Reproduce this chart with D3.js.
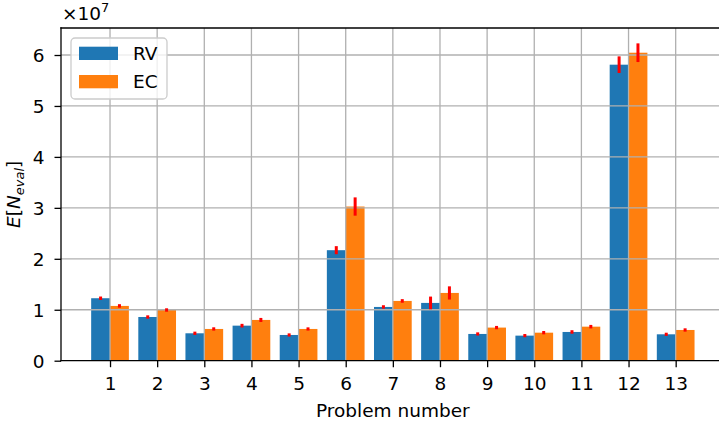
<!DOCTYPE html>
<html lang="en">

<head>
    <title></title>
    <meta charset="UTF-8">
    <script src="https://cdn.jsdelivr.net/npm/d3@7"></script>
    <style>
        body {
            margin: 0;
            background: #fff;
        }

        svg {
            display: block;
            font-family: "DejaVu Sans", sans-serif;
        }
    </style>
</head>

<body>
    <div id="wrap"></div>
    <script>
        //data
        var problems = [1, 2, 3, 4, 5, 6, 7, 8, 9, 10, 11, 12, 13];
        var seriesNames = ['RV', 'EC'];
        var rvMean = [1.226e7, 0.858e7, 0.538e7, 0.688e7, 0.505e7, 2.169e7, 1.055e7, 1.134e7, 0.525e7, 0.492e7, 0.564e7, 5.81e7, 0.518e7];
        var ecMean = [1.075e7, 0.995e7, 0.623e7, 0.80e7, 0.623e7, 3.026e7, 1.173e7, 1.33e7, 0.65e7, 0.55e7, 0.668e7, 6.045e7, 0.603e7];
        var rvErr = [0.004e7, 0.003e7, 0.003e7, 0.006e7, 0.002e7, 0.05e7, 0.004e7, 0.095e7, 0.002e7, 0.002e7, 0.005e7, 0.134e7, 0.002e7];
        var ecErr = [0.005e7, 0.004e7, 0.003e7, 0.01e7, 0.002e7, 0.15e7, 0.006e7, 0.1e7, 0.003e7, 0.003e7, 0.005e7, 0.154e7, 0.003e7];
        var yTicks = [0, 1e7, 2e7, 3e7, 4e7, 5e7, 6e7];

        //constants
        var WIDTH = 719,
            HEIGHT = 425,
            LEFT = 61,
            RIGHT = 724.7,
            TOP = 28,
            BOTTOM = 360.7,
            BARW = 0.4,
            FONT = 18.5,
            LW = 1.3,
            GRIDCOLOR = '#b0b0b0',
            colorArr = ['#1f77b4', '#ff7f0e'];

        var svg = d3.select('#wrap').append('svg').attr('width', WIDTH).attr('height', HEIGHT);

        //scales
        var x = d3.scaleLinear().domain([0.6 - 0.64, 13.4 + 0.64]).range([LEFT, RIGHT]);
        var y = d3.scaleLinear().domain([0, 6.53e7]).range([BOTTOM, TOP]);

        var series = [rvMean, ecMean];
        var errs = [rvErr, ecErr];
        var offsets = [-0.2, 0.2];

        //bars
        series.forEach(function(vals, s) {
            svg.append('g')
                .attr('class', 'bars bars' + s)
                .selectAll('rect')
                .data(vals)
                .enter()
                .append('rect')
                .attr('x', function(d, i) { return x(problems[i] + offsets[s] - BARW / 2); })
                .attr('width', x(BARW) - x(0))
                .attr('y', function(d) { return y(d); })
                .attr('height', function(d) { return y(0) - y(d); })
                .attr('fill', colorArr[s]);
        });

        //grid (drawn over bars, like the original)
        var grid = svg.append('g').attr('class', 'grid');
        grid.selectAll('line.gx')
            .data(problems)
            .enter()
            .append('line')
            .attr('class', 'gx')
            .attr('x1', function(d) { return x(d); })
            .attr('x2', function(d) { return x(d); })
            .attr('y1', TOP)
            .attr('y2', BOTTOM)
            .attr('stroke', GRIDCOLOR)
            .attr('stroke-width', LW);
        grid.selectAll('line.gy')
            .data(yTicks.slice(1))
            .enter()
            .append('line')
            .attr('class', 'gy')
            .attr('x1', LEFT)
            .attr('x2', RIGHT)
            .attr('y1', function(d) { return y(d); })
            .attr('y2', function(d) { return y(d); })
            .attr('stroke', GRIDCOLOR)
            .attr('stroke-width', LW);

        //error bars
        series.forEach(function(vals, s) {
            svg.append('g')
                .attr('class', 'err err' + s)
                .selectAll('line')
                .data(vals)
                .enter()
                .append('line')
                .attr('x1', function(d, i) { return x(problems[i] + offsets[s]); })
                .attr('x2', function(d, i) { return x(problems[i] + offsets[s]); })
                .attr('y1', function(d, i) { return y(d - errs[s][i]); })
                .attr('y2', function(d, i) { return y(d + errs[s][i]); })
                .attr('stroke', 'red')
                .attr('stroke-width', 3)
                .attr('stroke-linecap', 'square');
        });

        //axes
        var xAxis = d3.axisBottom(x).tickValues(problems).tickSize(6.5).tickPadding(6).tickFormat(d3.format('d'));
        var yAxis = d3.axisLeft(y).tickValues(yTicks).tickSize(6.5).tickPadding(10).tickFormat(function(d) { return d / 1e7; });

        var gx = svg.append('g').attr('transform', 'translate(0,' + BOTTOM + ')').call(xAxis);
        var gy = svg.append('g').attr('transform', 'translate(' + LEFT + ',0)').call(yAxis);
        [gx, gy].forEach(function(g) {
            g.select('.domain').remove();
            g.selectAll('line').attr('stroke', '#000').attr('stroke-width', LW);
            g.selectAll('text').attr('font-size', FONT).attr('font-family', 'DejaVu Sans').attr('fill', '#000');
        });
        gx.selectAll('text').attr('y', 12.5).attr('dy', '17.3px');
        gy.selectAll('text').attr('dy', '0.36em');

        //spines
        svg.append('line').attr('x1', LEFT).attr('x2', LEFT).attr('y1', TOP).attr('y2', BOTTOM)
            .attr('stroke', '#000').attr('stroke-width', LW).attr('stroke-linecap', 'square');
        svg.append('line').attr('x1', LEFT).attr('x2', RIGHT).attr('y1', BOTTOM).attr('y2', BOTTOM)
            .attr('stroke', '#000').attr('stroke-width', LW).attr('stroke-linecap', 'square');
        svg.append('line').attr('x1', LEFT).attr('x2', RIGHT).attr('y1', TOP).attr('y2', TOP)
            .attr('stroke', '#000').attr('stroke-width', LW).attr('stroke-linecap', 'square');

        //offset text
        var off = svg.append('text').attr('x', LEFT + 1).attr('y', 20).attr('font-size', FONT);
        off.append('tspan').text('×10');
        off.append('tspan').attr('font-size', 13).attr('dy', -8).text('7');

        //axis labels
        svg.append('text')
            .attr('x', (LEFT + RIGHT) / 2)
            .attr('y', 416.7)
            .attr('text-anchor', 'middle')
            .attr('font-size', FONT)
            .text('Problem number');

        var yl = svg.append('text')
            .attr('transform', 'translate(20,' + ((TOP + BOTTOM) / 2) + ') rotate(-90)')
            .attr('text-anchor', 'middle')
            .attr('font-size', FONT);
        yl.append('tspan').attr('font-style', 'italic').text('E');
        yl.append('tspan').text('[');
        yl.append('tspan').attr('font-style', 'italic').text('N');
        yl.append('tspan').attr('font-style', 'italic').attr('font-size', 13).attr('dy', 3.5).text('eval');
        yl.append('tspan').attr('dy', -3.5).text(']');

        //legend
        var legend = svg.append('g').attr('class', 'legend').attr('transform', 'translate(71,38)');
        legend.append('rect')
            .attr('width', 96)
            .attr('height', 61)
            .attr('rx', 4)
            .attr('fill', '#fff')
            .attr('fill-opacity', 0.8)
            .attr('stroke', '#cccccc')
            .attr('stroke-width', LW);
        seriesNames.forEach(function(name, i) {
            legend.append('rect')
                .attr('x', 8)
                .attr('y', 8.7 + i * 28.3)
                .attr('width', 39)
                .attr('height', 13.3)
                .attr('fill', colorArr[i]);
            legend.append('text')
                .attr('x', 62)
                .attr('y', 22 + i * 28.3)
                .attr('font-size', FONT)
                .text(name);
        });
    </script>
</body>

</html>
